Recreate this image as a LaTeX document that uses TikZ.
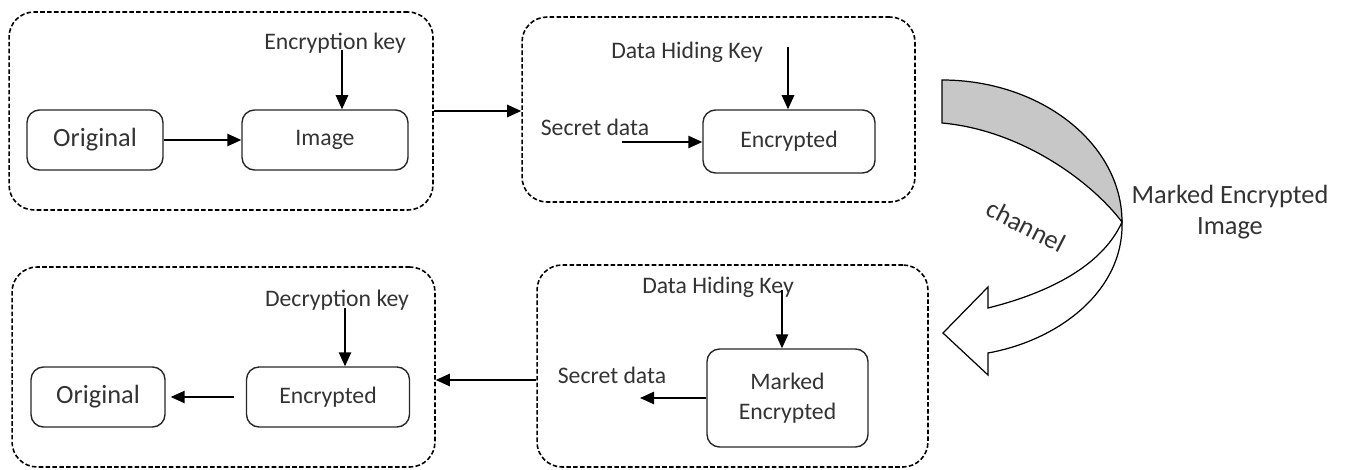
\documentclass[tikz,border=0pt]{standalone}
\usepackage{fontspec}
\setmainfont{Carlito}
\usetikzlibrary{arrows.meta}

\begin{document}
\begin{tikzpicture}[x=0.02cm,y=-0.02cm]
    \tikzstyle{dedge} = [line width=1pt,-{Triangle[length=8pt,width=7pt]},draw=black]
    \tikzstyle{stage}=[
      draw=black,
      line width=0.9pt,
      dash pattern=on 2.6pt off 1.3pt,
      rounded corners=0.5cm,
      inner sep=0pt,
    ]
    \tikzstyle{block}=[
      draw=black!85,
      line width=0.8pt,
      rounded corners=0.25cm,
      align=center,
      text=black!80,
      font=\fontsize{13.5}{17}\selectfont,
    ]
    \tikzstyle{bigblock}=[
      block,
      font=\fontsize{15}{17}\selectfont,
    ]
    \tikzstyle{keytext}=[
      text=black!80,
      inner sep=0pt,
      font=\fontsize{13.5}{15}\selectfont,
    ]
    \tikzstyle{band}=[draw=black, line width=0.7pt]

    \useasboundingbox (0,0) rectangle (1346,470);

    % encryption
    {
      \node[stage, minimum width=8.48cm, minimum height=3.96cm] (enc) at (221,111) {};
      \node[bigblock, minimum width=2.72cm, minimum height=1.2cm] (orig1) at (95,140) {Original};
      \node[block, minimum width=3.32cm, minimum height=1.2cm] (img1) at (325,140) {Image};
      \node[keytext] (enckey) at (335,43) {Encryption key};
      \coordinate (enckeytop) at (342,50);

      \draw[dedge] (orig1)--(img1);
      \draw[dedge] (enckeytop)--(enckeytop |- img1.north);
    }

    % data hiding
    {
      \node[stage, minimum width=7.86cm, minimum height=3.7cm] (hide) at (718.5,109.5) {};
      \node[block, minimum width=3.44cm, minimum height=1.26cm] (enc2) at (789,141.5) {Encrypted};
      \node[keytext] (hidekey1) at (687,52) {Data Hiding Key};
      \coordinate (hidekeytop1) at (788,47);
      \node[keytext] (secret1) at (595,127) {Secret data};
      \coordinate (secretin) at (622,142);

      \draw[dedge] (hidekeytop1)--(hidekeytop1 |- enc2.north);
      \draw[dedge] (secretin)--(secretin -| enc2.west);
      \draw[dedge] (enc.east)--(enc.east -| hide.west);
    }

    % channel
    {
      \filldraw[band, fill=black!22] (942,80) .. controls (1041,80) and (1122,144) .. (1122,222)
        .. controls (1090,180) and (1020,130) .. (942,123) -- cycle;
      \filldraw[band, fill=white] (1122,222) .. controls (1124,290) and (1060,340) .. (988,353)
        -- (988,375) -- (943,333) -- (988,287) -- (988,308)
        .. controls (1060,290) and (1105,260) .. (1122,222) -- cycle;
      \node[text=black!80, font=\fontsize{15}{17}\selectfont, rotate=-27, inner sep=0pt] (chan) at (1026,226) {channel};
      \node[text=black!80, font=\fontsize{15}{17.6}\selectfont, align=center] (marked) at (1230,212) {Marked Encrypted\\Image};
    }

    % data extraction
    {
      \node[stage, minimum width=7.82cm, minimum height=4.04cm] (ext) at (732.5,366) {};
      \node[block, minimum width=3.22cm, minimum height=1.96cm] (mark) at (787.5,398) {Marked\\Encrypted};
      \node[keytext] (hidekey2) at (718,287) {Data Hiding Key};
      \coordinate (hidekeytop2) at (782,290);
      \node[keytext] (secret2) at (612,375) {Secret data};
      \coordinate (secretout) at (640,397);

      \draw[dedge] (hidekeytop2)--(hidekeytop2 |- mark.north);
      \draw[dedge] (mark.west)--(mark.west -| secretout);
    }

    % decryption
    {
      \node[stage, minimum width=8.46cm, minimum height=4cm] (dec) at (223.5,367) {};
      \node[bigblock, minimum width=2.68cm, minimum height=1.2cm] (orig2) at (98,397) {Original};
      \node[block, minimum width=3.26cm, minimum height=1.2cm] (enc3) at (328,397) {Encrypted};
      \node[keytext] (deckey) at (337,300) {Decryption key};
      \coordinate (deckeytop) at (345,308);

      \draw[dedge] (deckeytop)--(deckeytop |- enc3.north);
      \draw[dedge, shorten <=0.24cm, shorten >=0.1cm] (enc3.west)--(orig2.east);
      \draw[dedge] ([yshift=-0.28cm]ext.west)--([yshift=-0.28cm]ext.west -| dec.east);
    }
  \end{tikzpicture}
\end{document}
